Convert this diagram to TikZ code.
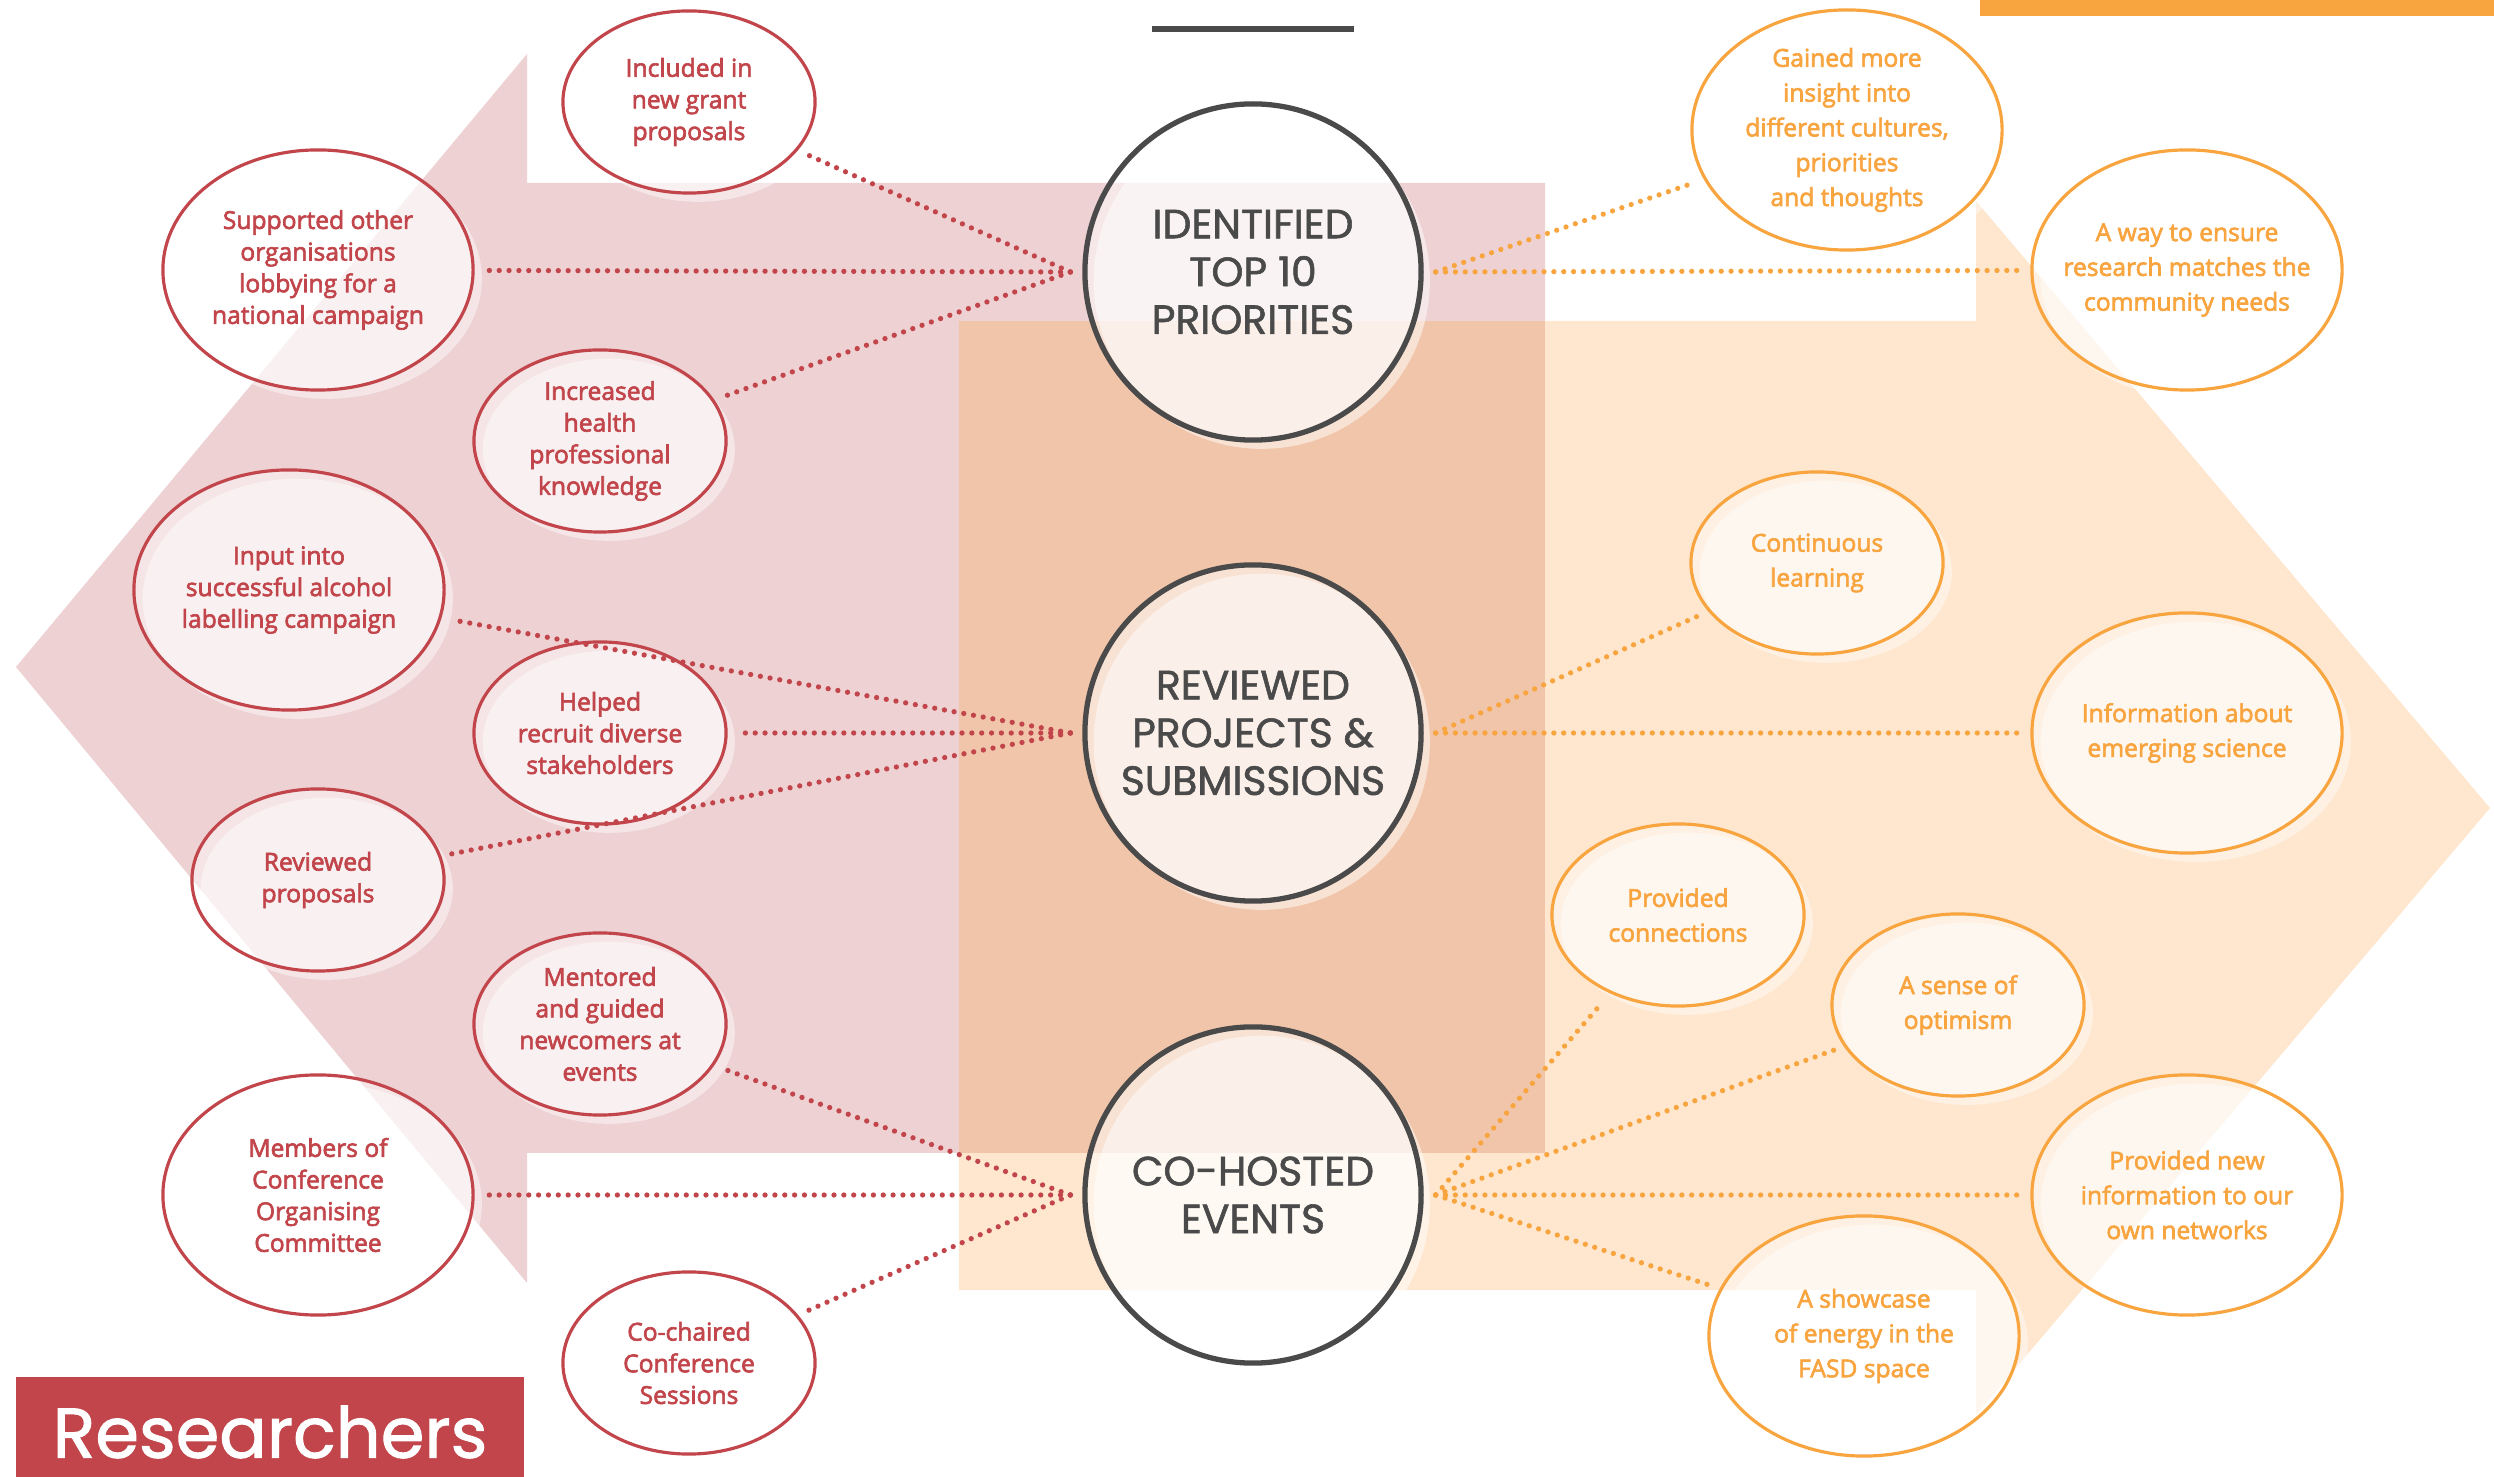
\documentclass[tikz,border=0pt]{standalone}
\usepackage{fontspec}
\setmainfont{Open Sans}
\newfontfamily\bubfont{Open Sans}[FakeBold=2.6]
\newfontfamily\hubfont{Poppins}[FakeBold=1.4]
\usetikzlibrary{shapes.geometric,shadows}
\definecolor{rbub}{HTML}{C1454A}
\definecolor{obub}{HTML}{F8A43F}
\definecolor{pinkbg}{HTML}{EDD1D3}
\definecolor{orangebg}{HTML}{FEE7CE}
\definecolor{mixbg}{HTML}{F1C5A9}
\definecolor{hubgray}{HTML}{4A4A4A}
\begin{document}
\begin{tikzpicture}[x=0.01cm, y=-0.01cm,
    bubble/.style={ellipse, draw, line width=0.9pt, fill=white, fill opacity=.45,
      text opacity=1, align=center, inner sep=-8pt,
      drop shadow={shadow xshift=2.5pt, shadow yshift=-2.5pt, fill=white, opacity=.45}},
    size s/.style={minimum width=2.52cm, minimum height=1.82cm},
    size l/.style={minimum width=3.1cm, minimum height=2.4cm},
    red bubble/.style={bubble, draw=rbub, text=rbub, font=\bubfont\fontsize{7}{9}\selectfont},
    orange bubble/.style={bubble, draw=obub, text=obub, font=\bubfont\fontsize{7}{9.9}\selectfont},
    hub/.style={circle, draw=hubgray, line width=1.5pt, fill=white, fill opacity=.5,
      text opacity=1, minimum size=3.36cm, inner sep=-10pt, align=center, text=hubgray,
      font=\hubfont\fontsize{11.6}{13.6}\selectfont,
      drop shadow={shadow xshift=2.5pt, shadow yshift=-2.5pt, fill=white, opacity=.5}},
    dots/.style={line width=1.5pt, line cap=round, dash pattern=on 0pt off 2.8pt, shorten >=3pt}]

    \useasboundingbox (0,0) rectangle (2494,1477);

    % arrows
    \fill [pinkbg] (527,54) -- (527,183) -- (1545,183) -- (1545,1153) -- (527,1153)
      -- (527,1283) -- (16,667) -- cycle;
    \fill [orangebg] (1976,201) -- (2490,808) -- (1976,1415) -- (1976,1290) -- (959,1290)
      -- (959,321) -- (1976,321) -- cycle;
    \fill [mixbg] (959,321) rectangle (1545,1153);
    \fill [obub] (1980,0) rectangle (2494,16);
    \draw [hubgray, line width=1.7pt] (1152,29) -- (1354,29);

    % hubs
    \foreach \n/\y/\t in {top/272/{IDENTIFIED\\TOP 10\\PRIORITIES},
        mid/733/{REVIEWED\\PROJECTS \&\\SUBMISSIONS},
        bot/1195/{CO-HOSTED\\EVENTS}} {
      \node [hub] (\n) at (1253,\y) {\t};
      \coordinate (\n-l) at ([xshift=-3.4pt]\n.west);
      \coordinate (\n-r) at ([xshift=3.4pt]\n.east);
    }

    % researchers
    \foreach \n/\x/\y/\s/\t in {grant/689/102/s/{Included in\\new grant\\proposals},
        lobby/318/270/l/{Supported other\\organisations\\lobbying for a\\national campaign},
        health/600/441/s/{Increased\\health\\professional\\knowledge},
        label/289/590/l/{Input into\\successful alcohol\\labelling campaign},
        recruit/600/733/s/{Helped\\recruit diverse\\stakeholders},
        review/318/880/s/{Reviewed\\proposals},
        mentor/600/1024/s/{Mentored\\and guided\\newcomers at\\events},
        member/318/1195/l/{Members of\\Conference\\Organising\\Committee},
        chair/689/1363/s/{Co-chaired\\Conference\\Sessions}}
      \node [red bubble, size \s] (\n) at (\x,\y) {\t};

    % community
    \foreach \n/\x/\y/\s/\t in {insight/1847/130/l/{Gained more\\insight into\\different cultures,\\priorities\\and thoughts},
        ensure/2187/270/l/{A way to ensure\\research matches the\\community needs},
        learn/1817/563/s/{Continuous\\learning},
        science/2187/733/l/{Information about\\emerging science},
        connect/1678/915/s/{Provided\\connections},
        optim/1958/1005/s/{A sense of\\optimism},
        network/2187/1195/l/{Provided new\\information to our\\own networks},
        energy/1864/1336/l/{A showcase\\of energy in the\\FASD space}}
      \node [orange bubble, size \s] (\n) at (\x,\y) {\t};

    % links
    \foreach \h/\b in {top/grant, top/lobby, top/health, mid/label, mid/recruit,
        mid/review, bot/mentor, bot/member, bot/chair}
      \draw [dots, rbub] (\h-l) -- (\b);

    \foreach \h/\b in {top/insight, top/ensure, mid/learn, mid/science, bot/connect,
        bot/optim, bot/network, bot/energy}
      \draw [dots, obub] (\h-r) -- (\b);

    \node [fill=rbub, text=white, minimum width=5.07cm, minimum height=1.1cm, inner sep=0pt,
      font=\hubfont\fontsize{20}{24}\selectfont] (tag) at (270,1432) {Researchers};
\end{tikzpicture}
\end{document}
